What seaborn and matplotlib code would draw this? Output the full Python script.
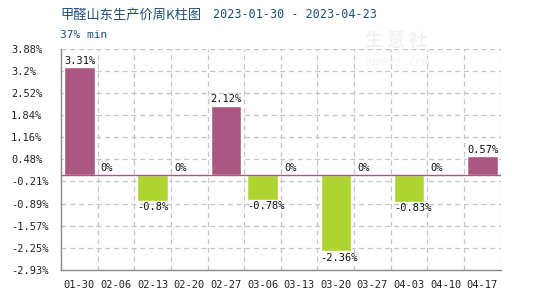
import matplotlib
matplotlib.use("Agg")
import matplotlib.pyplot as plt
import seaborn as sns
import pandas as pd

dates = ["01-30", "02-06", "02-13", "02-20", "02-27", "03-06",
         "03-13", "03-20", "03-27", "04-03", "04-10", "04-17"]
values = [3.31, 0, -0.8, 0, 2.12, -0.78, 0, -2.36, 0, -0.83, 0, 0.57]
labels = ["3.31%", "0%", "-0.8%", "0%", "2.12%", "-0.78%", "0%", "-2.36%", "0%", "-0.83%", "0%", "0.57%"]
yticks = [-2.93, -2.249, -1.568, -0.887, -0.206, 0.475, 1.156, 1.837, 2.518, 3.199, 3.88]
ytick_labels = ["-2.93%", "-2.25%", "-1.57%", "-0.89%", "-0.21%", "0.48%",
                "1.16%", "1.84%", "2.52%", "3.2%", "3.88%"]
title_cn = "甲醛山东生产价周K柱图"
title_date = "2023-01-30 - 2023-04-23"
subtitle = "37% min"

UP = "#AA5881"
DOWN = "#ADD431"
BAR_W = 0.83

sns.set_theme(style="white")
plt.rcParams["font.family"] = ["DejaVu Sans Mono", "Noto Sans CJK SC"]

df = pd.DataFrame({"date": dates, "value": values,
                   "dir": ["up" if v >= 0 else "down" for v in values]})

fig = plt.figure(figsize=(5.5, 3.0), dpi=100)
ax = fig.add_axes([61 / 550, 30 / 300, 439.7 / 550, 221.5 / 300])

sns.barplot(data=df, x="date", y="value", hue="dir",
            palette={"up": UP, "down": DOWN}, dodge=False, legend=False,
            width=BAR_W, saturation=1, ax=ax, zorder=3)

ax.set_xlim(-0.5, len(dates) - 0.5)
ax.set_ylim(yticks[0], yticks[-1])
ax.set_yticks(yticks)
ax.set_yticklabels(ytick_labels)
ax.set_xlabel("")
ax.set_ylabel("")
ax.tick_params(axis="both", labelsize=7.5, colors="#222222", length=0)
ax.tick_params(axis="x", pad=7)
ax.tick_params(axis="y", pad=36)
for t in ax.get_yticklabels():
    t.set_horizontalalignment("left")

# grid
for y in yticks[1:]:
    ax.axhline(y, color="#C4C4C4", lw=0.9, ls=(0, (4, 3)), zorder=1)
for i in range(len(dates)):
    ax.axvline(i + 0.5, color="#C4C4C4", lw=0.9, ls=(0, (4, 3)), zorder=1)
ax.axhline(0, color=UP, lw=1.0, zorder=4)

for s in ["top", "right"]:
    ax.spines[s].set_visible(False)
for s in ["left", "bottom"]:
    ax.spines[s].set_color("#888888")
    ax.spines[s].set_linewidth(1.0)

# value labels (left-aligned at the bar's left edge)
for i, (v, lab) in enumerate(zip(values, labels)):
    x0 = i - BAR_W / 2
    if v >= 0:
        ax.annotate(lab, (x0, v), xytext=(0, 1), textcoords="offset points",
                    ha="left", va="bottom", fontsize=7.5, color="#111111", zorder=5)
    else:
        ax.annotate(lab, (x0, v), xytext=(0, -1), textcoords="offset points",
                    ha="left", va="top", fontsize=7.5, color="#111111", zorder=5)

# watermark
fig.text(0.72, 0.865, "生 意 社", fontsize=13, color="#F5F1F1",
         family=["Noto Sans CJK SC"], ha="center", va="center", fontweight="bold", zorder=0)
fig.text(0.72, 0.79, "100PPI.COM", fontsize=8, color="#F3F3F3", ha="center", va="center", zorder=0)

# titles
fig.text(60 / 550, 1 - 15 / 300, title_cn, fontsize=9.5, color="#1F4E79",
         family=["Noto Sans CJK SC"], ha="left", va="center")
fig.text(213 / 550, 1 - 15 / 300, title_date, fontsize=8.5, color="#1F4E79",
         family=["DejaVu Sans Mono"], ha="left", va="center")
fig.text(60 / 550, 1 - 35 / 300, subtitle, fontsize=8, color="#1F4E79",
         family=["DejaVu Sans Mono"], ha="left", va="center")

fig.savefig("out.png", dpi=100)
